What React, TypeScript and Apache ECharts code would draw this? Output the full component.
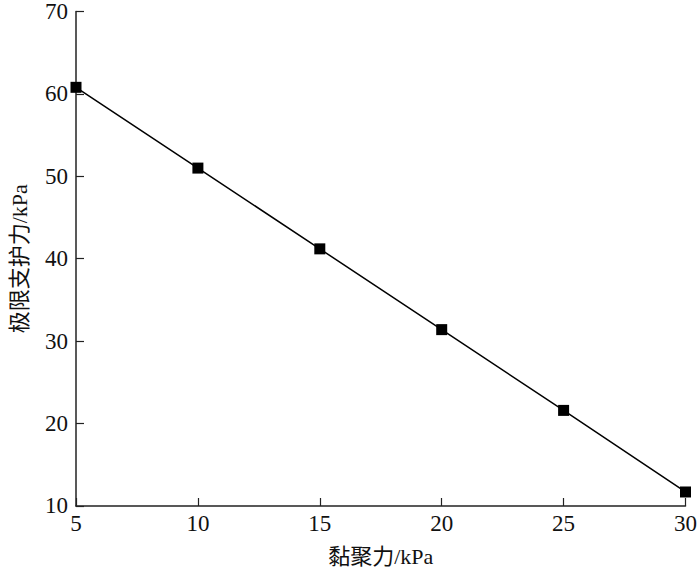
import React, { useEffect, useRef } from "react";
import * as echarts from "echarts";

const cohesion = [5, 10, 15, 20, 25, 30];
const supportPressure = [60.8, 51.0, 41.2, 31.4, 21.6, 11.7];
const xName = "黏聚力/kPa";
const yName = "极限支护力/kPa";

const FONT = "Liberation Serif, Noto Sans CJK SC, serif";

export default function App() {
  const ref = useRef<HTMLDivElement>(null);
  useEffect(() => {
    if (!ref.current) return;
    const chart = echarts.init(ref.current, undefined, { renderer: "svg" });
    chart.setOption({
      animation: false,
      backgroundColor: "#fff",
      grid: { left: 74, right: 11, top: 7, bottom: 62, containLabel: false },
      xAxis: {
        type: "value",
        min: 5,
        max: 30,
        interval: 5,
        name: xName,
        nameLocation: "middle",
        nameGap: 39,
        nameTextStyle: { fontFamily: FONT, fontSize: 22, color: "#111" },
        axisLine: { show: true, lineStyle: { color: "#222", width: 1.5 } },
        axisTick: { show: true, inside: true, length: 8, lineStyle: { color: "#222", width: 1.2 } },
        axisLabel: { fontFamily: FONT, fontSize: 23, color: "#111", margin: 6 },
        splitLine: { show: false },
      },
      yAxis: {
        type: "value",
        min: 10,
        max: 70,
        interval: 10,
        name: yName,
        nameLocation: "middle",
        nameGap: 46,
        nameTextStyle: { fontFamily: FONT, fontSize: 22, color: "#111" },
        axisLine: { show: true, lineStyle: { color: "#222", width: 1.5 } },
        axisTick: { show: true, inside: true, length: 8, lineStyle: { color: "#222", width: 1.2 } },
        axisLabel: { fontFamily: FONT, fontSize: 23, color: "#111", margin: 8 },
        splitLine: { show: false },
      },
      series: [
        {
          type: "line",
          data: cohesion.map((c, i) => [c, supportPressure[i]]),
          symbol: "rect",
          symbolSize: 11,
          lineStyle: { color: "#000", width: 1.5 },
          itemStyle: { color: "#000" },
          clip: false,
        },
      ],
    });
    return () => chart.dispose();
  }, []);
  return <div ref={ref} style={{ width: 700, height: 572, position: "absolute", left: 0, top: 0 }} />;
}
